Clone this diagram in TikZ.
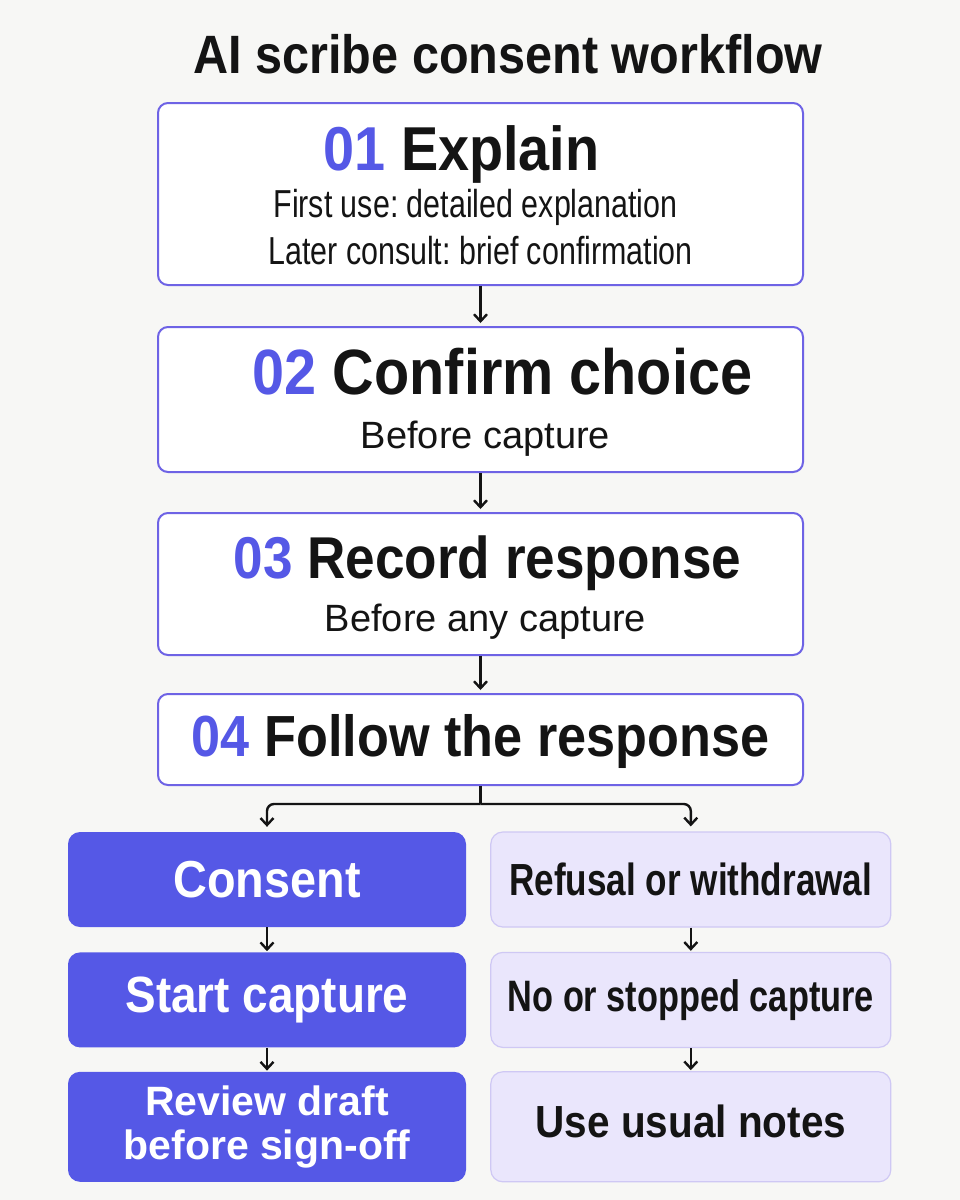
\documentclass[tikz,border=0pt]{standalone}
\usepackage{fontspec}
\setmainfont{Liberation Sans}
\newfontfamily\headfont{Liberation Sans}[FakeStretch=0.9]
\newfontfamily\narrowfont{Liberation Sans}[FakeStretch=0.78]
\usepackage{tikz}
\usetikzlibrary{positioning, arrows.meta}
\frenchspacing

\definecolor{paper}{HTML}{F7F7F5}
\definecolor{accent}{HTML}{5558E6}
\definecolor{frame}{HTML}{6E63E5}
\definecolor{lilac}{HTML}{EAE6FC}
\definecolor{lilacline}{HTML}{CFC8F4}
\definecolor{ink}{HTML}{141414}

\begin{document}
\begin{tikzpicture}
    % Default looks for boxes, labels and arrows
    \tikzstyle{stepbox}=[draw=frame, line width=2pt, fill=white, rounded corners=10pt, minimum width=645pt];
    \tikzstyle{yesbox}=[fill=accent, rounded corners=12pt, minimum width=398pt, text=white];
    \tikzstyle{nobox}=[draw=lilacline, line width=1.2pt, fill=lilac, rounded corners=12pt, minimum width=400pt, text=ink];
    \tikzstyle{head}=[anchor=base, inner sep=0pt, text=ink];
    \tikzstyle{note}=[anchor=base, inner sep=0pt, text=ink];
    \tikzstyle{flow}=[-{Straight Barb[length=7pt, width=13pt]}, line width=2.4pt, draw=ink, shorten >=3pt];

    % Page and title
    \fill[paper] (0,0) rectangle (960pt,-1200pt);
    \node (title) [head, font=\headfont\bfseries\fontsize{54}{60}\selectfont] at (508pt,-73pt) {AI scribe consent workflow};

    % Define and draw the four steps
    \node (b1) [stepbox, minimum height=182pt] at (480.5pt,-194pt) {};
    \node (b2) [stepbox, minimum height=145pt, below=40pt of b1] {};
    \node (b3) [stepbox, minimum height=142pt, below=39pt of b2] {};
    \node (b4) [stepbox, minimum height=91pt, below=37pt of b3] {};

    \node (t1) [head, xshift=-19pt, font=\headfont\bfseries\fontsize{62}{70}\selectfont] at ([yshift=-68pt]b1.north) {\textcolor{accent}{01} Explain};
    \node (s1a) [note, xshift=-5pt, font=\narrowfont\fontsize{39}{46}\selectfont] at ([yshift=-115pt]b1.north) {First use: detailed explanation};
    \node (s1b) [note, font=\narrowfont\fontsize{39}{46}\selectfont] at ([yshift=-162pt]b1.north) {Later consult: brief confirmation};

    \node (t2) [head, xshift=22pt, font=\headfont\bfseries\fontsize{64}{72}\selectfont] at ([yshift=-68pt]b2.north) {\textcolor{accent}{02} Confirm choice};
    \node (s2) [note, xshift=5pt, font=\fontsize{38}{46}\selectfont] at ([yshift=-122pt]b2.north) {Before capture};

    \node (t3) [head, xshift=7pt, font=\headfont\bfseries\fontsize{59}{66}\selectfont] at ([yshift=-66pt]b3.north) {\textcolor{accent}{03} Record response};
    \node (s3) [note, xshift=5pt, font=\fontsize{38}{46}\selectfont] at ([yshift=-119pt]b3.north) {Before any capture};

    \node (t4) [head, font=\headfont\bfseries\fontsize{58}{66}\selectfont] at ([yshift=-63pt]b4.north) {\textcolor{accent}{04} Follow the response};

    % Two outcomes
    \node (c1) [yesbox, minimum height=95pt, font=\headfont\bfseries\fontsize{52}{60}\selectfont] at (267pt,-879.5pt) {Consent};
    \node (c2) [yesbox, minimum height=95pt, below=25pt of c1, font=\headfont\bfseries\fontsize{51}{60}\selectfont] {Start capture};
    \node (c3) [yesbox, minimum height=110pt, below=24pt of c2, align=center, font=\bfseries\fontsize{41}{44}\selectfont] {Review draft\\before sign-off};
    \node (r1) [nobox, minimum height=95pt, right=24pt of c1, font=\narrowfont\bfseries\fontsize{45}{54}\selectfont] {Refusal or withdrawal};
    \node (r2) [nobox, minimum height=95pt, right=24pt of c2, font=\narrowfont\bfseries\fontsize{44}{54}\selectfont] {No or stopped capture};
    \node (r3) [nobox, minimum height=110pt, right=24pt of c3, text depth=12pt, font=\headfont\bfseries\fontsize{45}{54}\selectfont] {Use usual notes};

    % Draw the connectors
    \draw [flow] (b1) -- (b2);
    \draw [flow] (b2) -- (b3);
    \draw [flow] (b3) -- (b4);
    \coordinate (split) at ([yshift=-18pt]b4.south);
    \draw [line width=2.4pt, ink] (b4) -- (split);
    \draw [flow, shorten >=5pt, rounded corners=7pt] (split) -| (c1);
    \draw [flow, shorten >=5pt, rounded corners=7pt] (split) -| (r1);
    \draw [flow, shorten >=1pt] (c1) -- (c2);
    \draw [flow, shorten >=1pt] (c2) -- (c3);
    \draw [flow, shorten >=1pt] (r1) -- (r2);
    \draw [flow, shorten >=1pt] (r2) -- (r3);
\end{tikzpicture}
\end{document}
